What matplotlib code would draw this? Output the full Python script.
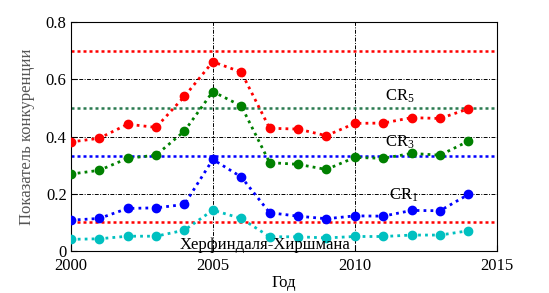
import numpy as np
import matplotlib
matplotlib.use("Agg")
import matplotlib.pyplot as plt

plt.rcParams['font.family'] = ['Liberation Serif', 'DejaVu Serif']
plt.rcParams['mathtext.fontset'] = 'custom'
plt.rcParams['mathtext.rm'] = 'Liberation Serif'
plt.rcParams['mathtext.it'] = 'Liberation Serif'

years = list(range(2000, 2015))
cr5 = [0.381, 0.394, 0.443, 0.432, 0.540, 0.661, 0.625, 0.429, 0.426, 0.403, 0.446, 0.447, 0.466, 0.463, 0.497]
cr3 = [0.269, 0.282, 0.324, 0.335, 0.419, 0.557, 0.507, 0.309, 0.303, 0.285, 0.327, 0.324, 0.341, 0.335, 0.384]
cr1 = [0.108, 0.114, 0.149, 0.151, 0.163, 0.320, 0.259, 0.134, 0.122, 0.113, 0.123, 0.122, 0.142, 0.141, 0.198]
hhi = [0.041, 0.043, 0.052, 0.052, 0.073, 0.143, 0.114, 0.050, 0.050, 0.046, 0.051, 0.051, 0.056, 0.056, 0.071]

# threshold lines
levels = [0.7, 0.5, 1/3, 0.1]
level_colors = ['red', '#2a7a50', 'blue', 'red']

fig = plt.figure(figsize=(5.49, 2.93), dpi=100)
ax = fig.add_axes([0.129, 0.143, 0.776, 0.782])

for lv, c in zip(levels, level_colors):
    ax.axhline(lv, color=c, ls=(0, (1.2, 1.2)), lw=1.8, zorder=2)

series = [(cr5, 'red'), (cr3, 'green'), (cr1, 'blue'), (hhi, '#00c0c0')]
for vals, c in series:
    ax.plot(years, vals, color=c, ls=(0, (1, 1.5)), lw=2, marker='o', ms=6, zorder=3)

ax.set_xlim(2000, 2015)
ax.set_ylim(0, 0.8)
ax.set_xticks([2000, 2005, 2010, 2015])
ax.set_yticks([0, 0.2, 0.4, 0.6, 0.8])
ax.set_yticklabels(['0', '0.2', '0.4', '0.6', '0.8'])
grid_ls = (0, (4, 1.5, 1, 1.5))
for x in [2005, 2010]:
    ax.axvline(x, color='black', ls=grid_ls, lw=0.7, zorder=1)
for y in [0.2, 0.4, 0.6]:
    ax.axhline(y, color='black', ls=grid_ls, lw=0.7, zorder=1)
ax.tick_params(labelsize=12, direction='in', length=4)
ax.tick_params(axis='x', pad=5)
ax.tick_params(axis='y', pad=3)

ax.text(2011.05, 0.524, 'CR$_5$', fontsize=12)
ax.text(2011.05, 0.364, 'CR$_3$', fontsize=12)
ax.text(2011.2, 0.18, 'CR$_1$', fontsize=12)
ax.text(2006.85, 0.007, 'Херфиндаля-Хиршмана', fontsize=12, ha='center')

ax.set_xlabel('Год', fontsize=12, labelpad=1)
ax.set_ylabel('Показатель конкуренции', fontsize=12, color='#555555', labelpad=8)

fig.savefig('out.png', dpi=100)
